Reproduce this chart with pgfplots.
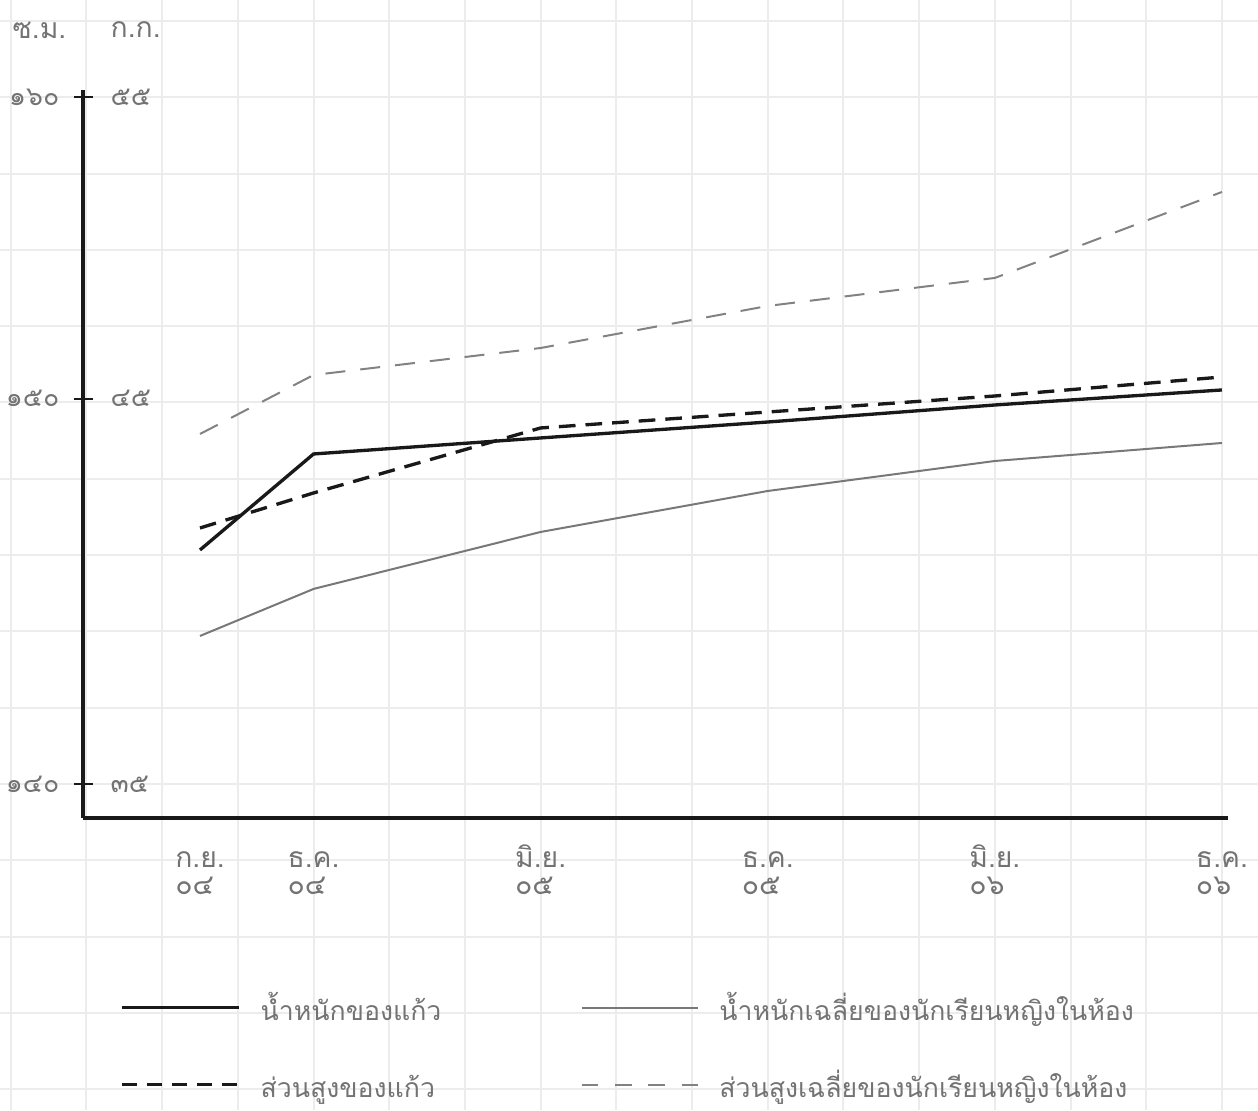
\documentclass[border=0pt]{standalone}
\usepackage{pgfplots}
\pgfplotsset{compat=1.18}
\usepackage{fontspec}
\newfontfamily\thai[Script=Thai]{Loma}
\definecolor{gridc}{RGB}{236,236,236}
\definecolor{txt}{RGB}{115,115,115}
\definecolor{avgw}{RGB}{120,120,120}
\definecolor{avgh}{RGB}{130,130,130}
\definecolor{ink}{RGB}{25,25,25}

% x: months after Sep 2504 (0 = ก.ย. ๐๔), y: graph-paper squares above the 140 cm line
\pgfplotstableread{
x   kw     kh     aw     ah
0   3.067  3.355  1.940  4.587
3   4.325  3.814  2.556  5.360
9   4.535  4.666  3.303  5.714
15  4.744  4.875  3.840  6.265
21  4.967  5.085  4.233  6.632
27  5.164  5.334  4.469  7.759
}\data

\begin{document}
\begin{tikzpicture}[font=\thai\fontsize{8.5}{10}\selectfont]
\begin{axis}[
  x=11.355pt, y=22.89pt,
  xmin=-5.284, xmax=27.953, ymin=-4.273, ymax=10.275,
  axis line style={draw=none},
  xtick={-5,-3,...,27}, ytick={-4,...,10},
  xticklabels={}, yticklabels={},
  major tick length=0pt,
  grid=major, major grid style={gridc, line width=0.6pt},
  clip=false,
  legend columns=2,
  legend style={at={(axis description cs:0.0954,0.0515)}, anchor=west,
    draw=none, fill=none, inner sep=0pt, row sep=13.6pt, column sep=0pt,
    font=\thai\fontsize{8}{9.5}\selectfont,
    nodes={inner sep=0pt, text=txt, text height=6.5pt, text depth=3pt},
    /tikz/every odd column/.style={column sep=6pt}},
  legend cell align=left,
  legend image code/.code={\draw[#1] (0pt,2pt) -- (35pt,2pt);},
]
\addlegendimage{ink, line width=1pt}
\addlegendentry{\makebox[96pt][l]{น้ำหนักของแก้ว}}
\addlegendimage{avgw, line width=0.6pt}
\addlegendentry{น้ำหนักเฉลี่ยของนักเรียนหญิงในห้อง}
\addlegendimage{ink, line width=1pt, dash pattern=on 4.5pt off 3pt}
\addlegendentry{\makebox[96pt][l]{ส่วนสูงของแก้ว}}
\addlegendimage{avgh, line width=0.6pt, dash pattern=on 5pt off 5pt}
\addlegendentry{ส่วนสูงเฉลี่ยของนักเรียนหญิงในห้อง}

\addplot[forget plot, avgh, line width=0.6pt, dash pattern=on 6pt off 4.5pt] table[x=x,y=ah] {\data};
\addplot[forget plot, avgw, line width=0.6pt] table[x=x,y=aw] {\data};
\addplot[forget plot, ink, line width=1pt, dash pattern=on 5pt off 3pt] table[x=x,y=kh] {\data};
\addplot[forget plot, ink, line width=1pt] table[x=x,y=kw] {\data};

\begin{scope}[every node/.style={inner sep=0pt, text=txt}]
\node[anchor=west] at (axis cs:-4.967,9.882) {ซ.ม.};
\node[anchor=west] at (axis cs:-2.378,9.882) {ก.ก.};
\begin{scope}[font=\thai\fontsize{8}{9}\selectfont]
\node[anchor=east] at (axis cs:-3.699,9) {๑๖๐};
\node[anchor=east] at (axis cs:-3.699,5.05) {๑๕๐};
\node[anchor=east] at (axis cs:-3.699,0) {๑๔๐};
\node[anchor=west] at (axis cs:-2.378,9) {๕๕};
\node[anchor=west] at (axis cs:-2.378,5.05) {๔๕};
\node[anchor=west] at (axis cs:-2.378,0) {๓๕};
\end{scope}
\end{scope}
\coordinate (O) at (axis cs:-3.08,-0.446);
\end{axis}
\begin{axis}[
  at={(O)}, anchor=south west,
  x=11.355pt, y=22.89pt,
  xmin=-3.08, xmax=27.16, ymin=-0.446, ymax=9.1,
  axis x line=bottom, axis y line=left,
  axis line style={line width=1.2pt, ink, -},
  ytick={0,5.05,9}, yticklabels={},
  xtick={0,3,9,15,21,27},
  xticklabels={{\rule{0pt}{8.5pt}ก.ย.\\๐๔},{\rule{0pt}{8.5pt}ธ.ค.\\๐๔},{\rule{0pt}{8.5pt}มิ.ย.\\๐๕},{\rule{0pt}{8.5pt}ธ.ค.\\๐๕},{\rule{0pt}{8.5pt}มิ.ย.\\๐๖},{\rule{0pt}{8.5pt}ธ.ค.\\๐๖}},
  xticklabel style={align=left, text=txt, font=\thai\fontsize{8.5}{8.1}\selectfont},
  tick align=center, major tick length=5.5pt,
  ytick style={line width=0.7pt, ink},
  xtick style={draw=none},
]
\end{axis}
\pgfresetboundingbox
\useasboundingbox (0,0) rectangle (377.4pt,333pt);
\end{tikzpicture}
\end{document}
